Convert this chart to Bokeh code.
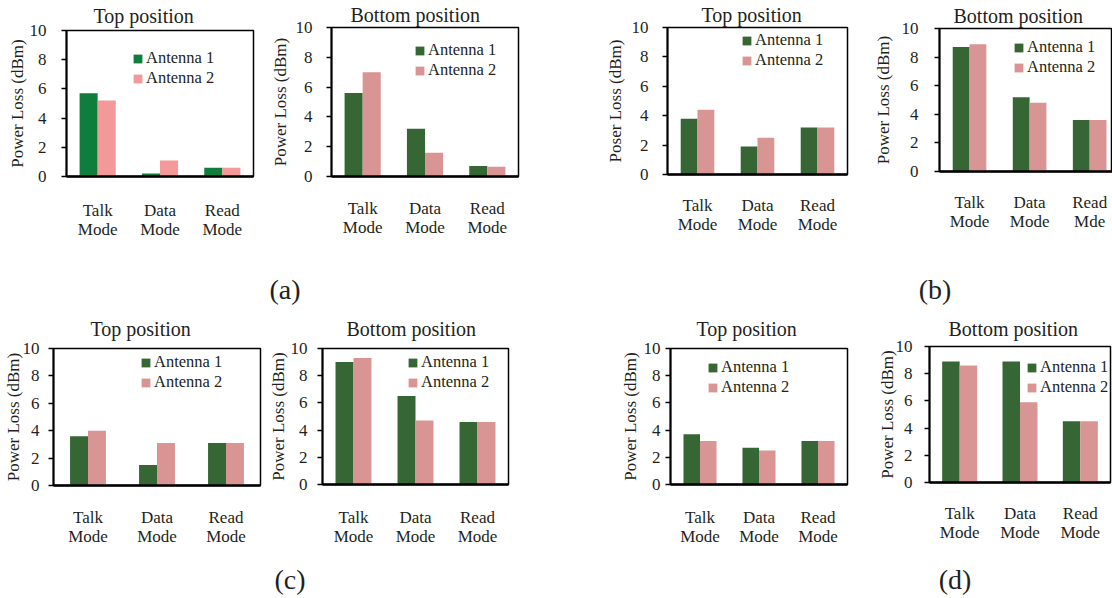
from bokeh.plotting import figure
from bokeh.layouts import row, column
from bokeh.models import Range1d, FixedTicker, ColumnDataSource, Div, Spacer
from bokeh.transform import dodge
from bokeh.embed import file_html
from bokeh.resources import INLINE

# ---------------- data ----------------
modes = ["Talk\nMode", "Data\nMode", "Read\nMode"]
modes_b_bottom = ["Talk\nMode", "Data\nMode", "Read\nMde"]
series_names = ["Antenna 1", "Antenna 2"]

a_top_ant1 = [5.7, 0.2, 0.6]
a_top_ant2 = [5.2, 1.1, 0.6]
a_bot_ant1 = [5.6, 3.2, 0.7]
a_bot_ant2 = [7.0, 1.6, 0.65]

b_top_ant1 = [3.8, 1.9, 3.2]
b_top_ant2 = [4.4, 2.5, 3.2]
b_bot_ant1 = [8.7, 5.2, 3.6]
b_bot_ant2 = [8.9, 4.8, 3.6]

c_top_ant1 = [3.6, 1.5, 3.1]
c_top_ant2 = [4.0, 3.1, 3.1]
c_bot_ant1 = [9.0, 6.5, 4.6]
c_bot_ant2 = [9.3, 4.7, 4.6]

d_top_ant1 = [3.7, 2.7, 3.2]
d_top_ant2 = [3.2, 2.5, 3.2]
d_bot_ant1 = [8.9, 8.9, 4.5]
d_bot_ant2 = [8.6, 5.9, 4.5]

y_ticks = [0, 2, 4, 6, 8, 10]
titles = ["Top position", "Bottom position"]
ylab = "Power Loss (dBm)"
ylab_typo = "Poser Loss (dBm)"
panel_labels = ["(a)", "(b)", "(c)", "(d)"]

# ---------------- style ----------------
FONT = "Liberation Serif"
TXT = "#231f20"
GREEN_A = "#0f7d3e"
PINK_A = "#f4999a"
GREEN = "#356633"
PINK = "#d99594"


def panel(title, cats, v1, v2, ylabel, w, h, left, right, top, bottom,
          c1, c2, leg, title_off, title_standoff, tick_standoff, lab_standoff,
          bw=0.29, x_end=None, cat_standoff=22):
    n = len(cats)
    centers = [i + 0.5 for i in range(n)]
    src = ColumnDataSource(dict(x=centers, a1=v1, a2=v2))
    p = figure(width=w, height=h, output_backend="svg", toolbar_location=None,
               x_range=Range1d(0, x_end if x_end else n), y_range=Range1d(0, 10),
               min_border_left=left, min_border_right=right,
               min_border_top=top, min_border_bottom=bottom)
    p.vbar(x=dodge("x", -bw / 2, range=p.x_range), top="a1", width=bw, source=src,
           fill_color=c1, line_color=None, legend_label=series_names[0])
    p.vbar(x=dodge("x", bw / 2, range=p.x_range), top="a2", width=bw, source=src,
           fill_color=c2, line_color=None, legend_label=series_names[1])
    p.xgrid.visible = False
    p.ygrid.visible = False
    p.outline_line_color = "black"
    p.outline_line_width = 1.5
    p.background_fill_color = "white"
    p.border_fill_color = "white"

    p.title.text = title
    p.title.text_font = FONT
    p.title.text_font_size = "20px"
    p.title.text_font_style = "normal"
    p.title.text_color = TXT
    p.title.align = "left"
    p.title.vertical_align = "top"
    p.title.offset = title_off
    p.title.standoff = title_standoff

    ya = p.yaxis[0]
    ya.ticker = FixedTicker(ticks=y_ticks)
    ya.axis_line_width = 2
    ya.axis_line_color = "black"
    ya.major_tick_out = 5
    ya.major_tick_in = 0
    ya.major_tick_line_width = 1.5
    ya.minor_tick_out = 0
    ya.minor_tick_in = 0
    ya.major_label_text_font = FONT
    ya.major_label_text_font_size = "17px"
    ya.major_label_text_color = TXT
    ya.major_label_standoff = tick_standoff
    ya.axis_label = ylabel
    ya.axis_label_text_font = FONT
    ya.axis_label_text_font_size = "17px"
    ya.axis_label_text_font_style = "normal"
    ya.axis_label_text_color = TXT
    ya.axis_label_standoff = lab_standoff

    xa = p.xaxis[0]
    xa.ticker = FixedTicker(ticks=centers)
    xa.major_label_overrides = {c: lab for c, lab in zip(centers, cats)}
    xa.axis_line_width = 2.5
    xa.axis_line_color = "black"
    xa.major_tick_out = 0
    xa.major_tick_in = 0
    xa.minor_tick_out = 0
    xa.minor_tick_in = 0
    xa.major_label_text_font = FONT
    xa.major_label_text_font_size = "17px"
    xa.major_label_text_line_height = 1.05
    xa.major_label_text_color = TXT
    xa.major_label_standoff = cat_standoff
    xa.axis_label_standoff = 0

    lg = p.legend[0]
    lg.location = leg
    lg.border_line_color = None
    lg.background_fill_alpha = 0
    lg.padding = 0
    lg.margin = 0
    lg.spacing = 0
    lg.glyph_width = 11
    lg.glyph_height = 11
    lg.label_height = 20
    lg.label_standoff = 3
    lg.label_text_font = FONT
    lg.label_text_font_size = "16.5px"
    lg.label_text_color = TXT
    return column(p, spacing=0)


H1 = 268
H2 = 256
# top row  (frame tops 30/27/27/28, bottoms 176/176/174/171)
pa1 = panel(titles[0], modes, a_top_ant1, a_top_ant2, ylab, 262, H1, 66, 9, 30, H1 - 176,
            GREEN_A, PINK_A, (66, 88), 27, 4, 15, 0, cat_standoff=24)
pa2 = panel(titles[1], modes, a_bot_ant1, a_bot_ant2, ylab, 298, H1, 69, 42, 27, H1 - 176,
            GREEN, PINK, (83, 96), 19, 0, 14, 3, cat_standoff=22)
pb1 = panel(titles[0], modes, b_top_ant1, b_top_ant2, ylab_typo, 300, H1, 107, 13, 27, H1 - 174,
            GREEN, PINK, (74, 104), 34, 0, 14, 4, bw=0.28, cat_standoff=21)
pb2 = panel(titles[1], modes_b_bottom, b_bot_ant1, b_bot_ant2, ylab, 252, H1, 79, 0, 28, H1 - 171,
            GREEN, PINK, (74, 94), 14, 0, 16, 6, bw=0.28, x_end=2.88, cat_standoff=21)
# bottom row (frame tops 348/348/348/346, bottoms 485/484/484/482), row starts at y=310
pc1 = panel(titles[0], modes, c_top_ant1, c_top_ant2, ylab, 265, H2, 51, 5, 38, H2 - 175,
            GREEN, PINK, (87, 93), 37, 14, 9, -3, bw=0.26, cat_standoff=22)
pc2 = panel(titles[1], modes, c_bot_ant1, c_bot_ant2, ylab, 295, H2, 57, 52, 38, H2 - 174,
            GREEN, PINK, (85, 92), 24, 14, 10, 0, cat_standoff=23)
pd1 = panel(titles[0], modes, d_top_ant1, d_top_ant2, ylab, 302, H2, 110, 15, 38, H2 - 174,
            GREEN, PINK, (37, 87), 26, 14, 5, 1, bw=0.28, cat_standoff=23)
pd2 = panel(titles[1], modes, d_bot_ant1, d_bot_ant2, ylab, 250, H2, 67, 2, 36, H2 - 172,
            GREEN, PINK, (97, 85), 19, 10, 12, -4, bw=0.29, cat_standoff=21)


def lab_div(text, w, h, pad):
    return Div(text=text, width=w, height=h, margin=0,
               styles={"font-family": FONT, "font-size": "28px", "line-height": "28px",
                       "text-align": "center", "color": TXT, "padding-top": f"{pad}px",
                       "box-sizing": "border-box", "overflow": "visible"})


row1 = row(pa1, pa2, pb1, pb2, spacing=0)
L1 = 310 - H1
lab1 = row(Spacer(width=255, height=L1, margin=0), lab_div(panel_labels[0], 60, L1, 290 - H1 - 14),
           Spacer(width=905 - 315, height=L1, margin=0), lab_div(panel_labels[1], 60, L1, 290 - H1 - 14),
           spacing=0)
row2 = row(pc1, pc2, pd1, pd2, spacing=0)
L2 = 598 - 310 - H2
lab2 = row(Spacer(width=260, height=L2, margin=0), lab_div(panel_labels[2], 60, L2, 580 - 310 - H2 - 14),
           Spacer(width=925 - 320, height=L2, margin=0), lab_div(panel_labels[3], 60, L2, 580 - 310 - H2 - 14),
           spacing=0)

layout = column(row1, lab1, row2, lab2, spacing=0)

open("out.html", "w").write(file_html(layout, INLINE))
